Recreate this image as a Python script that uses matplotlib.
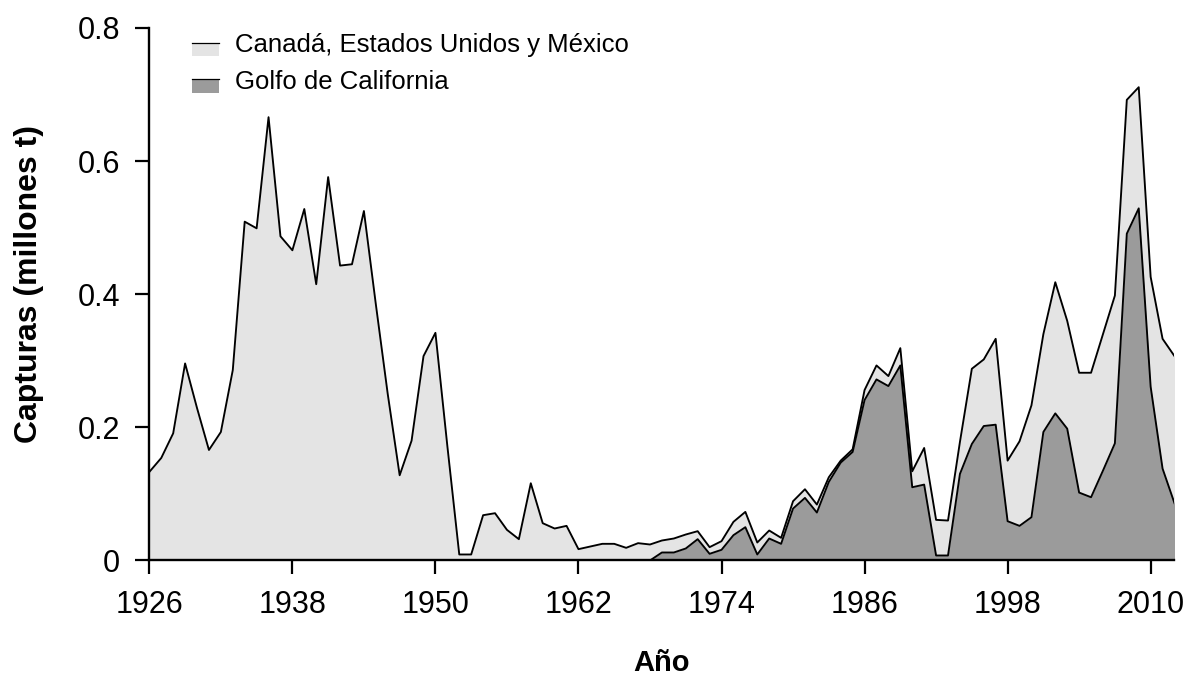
import numpy as np
import matplotlib
matplotlib.use("Agg")
import matplotlib.pyplot as plt
from matplotlib.patches import Rectangle
from matplotlib.lines import Line2D
from matplotlib.legend_handler import HandlerBase

plt.rcParams['font.family'] = ['Liberation Sans', 'DejaVu Sans']

# Annual catches (millions of tonnes)
years = np.arange(1926, 2013)
total = [
    0.133, 0.154, 0.191, 0.296, 0.229, 0.166, 0.193, 0.286, 0.509, 0.499,  # 1926-1935
    0.666, 0.487, 0.466, 0.528, 0.415, 0.576, 0.443, 0.445, 0.525, 0.385,  # 1936-1945
    0.250, 0.128, 0.180, 0.307, 0.342, 0.172, 0.009, 0.009, 0.068, 0.071,  # 1946-1955
    0.046, 0.032, 0.116, 0.056, 0.048, 0.052, 0.017, 0.021, 0.025, 0.025,  # 1956-1965
    0.019, 0.026, 0.024, 0.030, 0.033, 0.039, 0.044, 0.020, 0.029, 0.058,  # 1966-1975
    0.073, 0.027, 0.045, 0.034, 0.089, 0.107, 0.084, 0.125, 0.150, 0.167,  # 1976-1985
    0.256, 0.293, 0.277, 0.319, 0.134, 0.169, 0.061, 0.060, 0.178, 0.288,  # 1986-1995
    0.302, 0.333, 0.150, 0.179, 0.233, 0.340, 0.418, 0.360, 0.282, 0.282,  # 1996-2005
    0.340, 0.398, 0.692, 0.711, 0.426, 0.333, 0.307,                        # 2006-2012
]

golfo_years = np.arange(1968, 2013)
golfo = [
    0.000, 0.012, 0.012, 0.018, 0.032, 0.010, 0.016, 0.038, 0.050, 0.009,  # 1968-1977
    0.033, 0.025, 0.078, 0.094, 0.072, 0.118, 0.147, 0.163, 0.241, 0.272,  # 1978-1987
    0.262, 0.293, 0.110, 0.114, 0.0075, 0.0075, 0.130, 0.175, 0.202, 0.204,  # 1988-1997
    0.059, 0.052, 0.065, 0.193, 0.221, 0.198, 0.102, 0.095, 0.135, 0.176,  # 1998-2007
    0.491, 0.529, 0.261, 0.138, 0.086,                                      # 2008-2012
]

labels = ["Canadá, Estados Unidos y México", "Golfo de California"]
light = "#e4e4e4"
dark = "#9b9b9b"

xticks = [1926, 1938, 1950, 1962, 1974, 1986, 1998, 2010]
yticks = [0, 0.2, 0.4, 0.6, 0.8]
yticklabels = ["0", "0.2", "0.4", "0.6", "0.8"]


class TopEdgeHandler(HandlerBase):
    """Legend key: a filled box hanging below a thin line at text mid-height."""

    def __init__(self, color, **kw):
        super().__init__(**kw)
        self.color = color

    def create_artists(self, legend, orig_handle, xdescent, ydescent,
                       width, height, fontsize, trans):
        x0 = -xdescent
        ymid = -ydescent + 0.36 * fontsize
        boxh = 0.52 * fontsize
        rect = Rectangle((x0, ymid - boxh), width, boxh,
                         facecolor=self.color, edgecolor="none", transform=trans)
        line = Line2D([x0, x0 + width], [ymid, ymid], color="black",
                      linewidth=0.9, transform=trans)
        return [rect, line]


fig = plt.figure(figsize=(11.89, 6.82), dpi=100)
ax = fig.add_axes([0.1256, 0.1782, 0.8622, 0.7808])

ax.fill_between(years, 0, total, color=light, linewidth=0)
ax.plot(years, total, color="black", linewidth=1.35)
ax.fill_between(golfo_years, 0, golfo, color=dark, linewidth=0)
ax.plot(golfo_years, golfo, color="black", linewidth=1.35)

ax.set_xlim(1926, 2012)
ax.set_ylim(0, 0.8)
ax.set_xticks(xticks)
ax.set_yticks(yticks)
ax.set_yticklabels(yticklabels)
ax.tick_params(axis="both", which="major", direction="out", length=10,
               width=1.6, labelsize=22, pad=11, colors="black")

for side in ("top", "right"):
    ax.spines[side].set_visible(False)
for side in ("left", "bottom"):
    ax.spines[side].set_linewidth(1.7)

ax.set_ylabel("Capturas (millones t)", fontsize=23, fontweight="bold")
ax.set_xlabel("Año", fontsize=21, fontweight="bold")
ax.yaxis.set_label_coords(-0.103, 0.52)
ax.xaxis.set_label_coords(0.5, -0.166)

proxy1 = Rectangle((0, 0), 1, 1)
proxy2 = Rectangle((0, 0), 1, 1)
ax.legend([proxy1, proxy2], labels,
          handler_map={proxy1: TopEdgeHandler(light), proxy2: TopEdgeHandler(dark)},
          loc="upper left", bbox_to_anchor=(0.042, 0.991), frameon=False,
          fontsize=18.5, handlelength=1.05, handletextpad=0.6,
          labelspacing=0.5, borderpad=0.0, borderaxespad=0.0)

fig.savefig("out.png", dpi=100)
